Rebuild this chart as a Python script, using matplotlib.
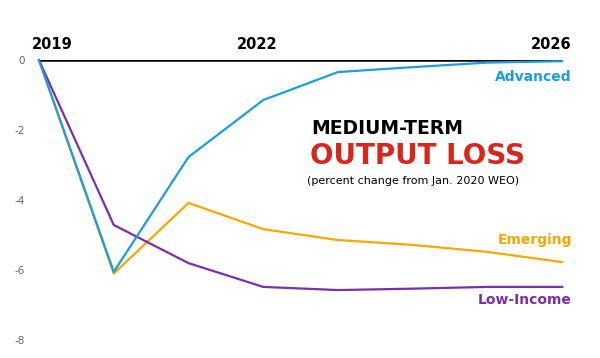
import matplotlib.pyplot as plt

years = [2019, 2020, 2021, 2022, 2023, 2024, 2025, 2026]
advanced = [0, -6.05, -2.77, -1.14, -0.34, -0.2, -0.07, -0.03]
emerging = [0, -6.1, -4.08, -4.83, -5.14, -5.28, -5.48, -5.77]
low_income = [0, -4.71, -5.8, -6.48, -6.57, -6.53, -6.48, -6.48]
year_labels = [2019, 2022, 2026]
y_ticks = [0, -2, -4, -6, -8]

BLUE = "#1a9fdc"
ORANGE = "#f5a800"
PURPLE = "#7b2fa8"
RED = "#d8261c"

fig = plt.figure(figsize=(6, 3.58), dpi=100)
ax = fig.add_axes([0.065, 0.050, 0.872, 0.782])

ax.plot(years, emerging, color=ORANGE, lw=1.6, clip_on=False)
ax.plot(years, low_income, color=PURPLE, lw=1.6, clip_on=False)
ax.plot(years, advanced, color=BLUE, lw=1.6, clip_on=False, zorder=3)
ax.axhline(0, color="black", lw=1.8, zorder=2)

ax.set_xlim(2019, 2026)
ax.set_ylim(-8, 0)
for s in ax.spines.values():
    s.set_visible(False)
ax.set_xticks([])
ax.set_yticks(y_ticks)
ax.set_yticklabels([str(t) for t in y_ticks], color="#666666", fontsize=7.5)
ax.tick_params(axis="y", length=0, pad=10)

# year labels: first left-aligned, middle centred, last right-aligned
aligns = ["left", "center", "right"]
offsets = [-0.1, -0.08, 0.13]
for yr, ha, off in zip(year_labels, aligns, offsets):
    ax.text(yr + off, 0.22, str(yr), ha=ha, va="bottom", fontsize=10.5,
            fontweight="bold", color="black")

ax.text(2026.13, -0.48, "Advanced", ha="right", va="center", fontsize=10,
        fontweight="bold", color=BLUE)
ax.text(2026.13, -5.15, "Emerging", ha="right", va="center", fontsize=10,
        fontweight="bold", color=ORANGE)
ax.text(2026.13, -6.85, "Low-Income", ha="right", va="center", fontsize=10,
        fontweight="bold", color=PURPLE)

fig.text(0.518, 1 - 128 / 358, "MEDIUM-TERM", ha="left", va="center",
         fontsize=13.5, fontweight="bold", color="black")
fig.text(0.516, 1 - 156 / 358, "OUTPUT LOSS", ha="left", va="center",
         fontsize=20, fontweight="bold", color=RED)
fig.text(0.512, 1 - 181 / 358, "(percent change from Jan. 2020 WEO)",
         ha="left", va="center", fontsize=8, color="black")

fig.savefig("out.png", dpi=100)
